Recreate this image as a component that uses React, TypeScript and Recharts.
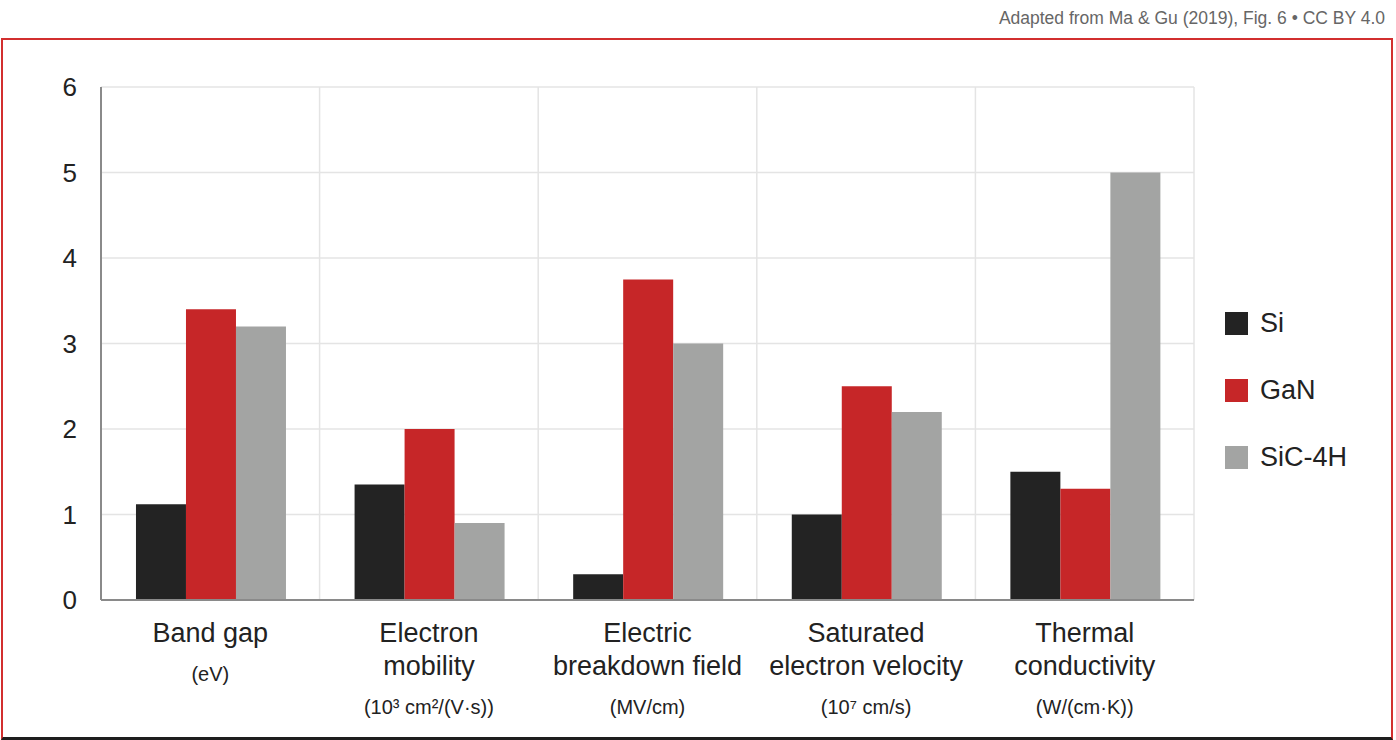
import { BarChart, Bar, XAxis, YAxis, CartesianGrid } from 'recharts'

// property groups along the x axis
const properties = ['Band gap', 'Electron mobility', 'Electric breakdown field', 'Saturated electron velocity', 'Thermal conductivity']
const titleLines = [['Band gap'], ['Electron', 'mobility'], ['Electric', 'breakdown field'], ['Saturated', 'electron velocity'], ['Thermal', 'conductivity']]
const units = ['(eV)', '(10³ cm²/(V·s))', '(MV/cm)', '(10⁷ cm/s)', '(W/(cm·K))']

// material values per property
const si = [1.12, 1.35, 0.3, 1.0, 1.5]
const gan = [3.4, 2.0, 3.75, 2.5, 1.3]
const sic = [3.2, 0.9, 3.0, 2.2, 5.0]

const yTicks = [0, 1, 2, 3, 4, 5, 6]

const series = [
  { key: 'si', name: 'Si', color: '#232323' },
  { key: 'gan', name: 'GaN', color: '#c62628' },
  { key: 'sic', name: 'SiC-4H', color: '#a3a4a3' },
]

const data = properties.map((p, i) => ({ property: p, si: si[i], gan: gan[i], sic: sic[i] }))

const FONT = '"Liberation Sans", Arial, Helvetica, sans-serif'

const CategoryTick = ({ x, y, payload }: any) => {
  const i = payload.index
  const lines = titleLines[i]
  return (
    <g transform={`translate(${x},${y})`}>
      {lines.map((t, k) => (
        <text key={k} x={0} y={34 + k * 33} textAnchor="middle" fontSize={27} fill="#222" fontFamily={FONT}>
          {t}
        </text>
      ))}
      <text x={0} y={34 + (lines.length - 1) * 33 + 39} textAnchor="middle" fontSize={20} fill="#222" fontFamily={FONT}>
        {units[i]}
      </text>
    </g>
  )
}

const SwatchLegend = () => (
  <div style={{ position: 'absolute', left: 1225, top: 311, fontFamily: FONT }}>
    {series.map((s) => (
      <div key={s.key} style={{ display: 'flex', alignItems: 'center', height: 24, marginBottom: 43 }}>
        <div style={{ width: 23, height: 23, background: s.color, marginRight: 12 }} />
        <span style={{ fontSize: 27, color: '#222' }}>{s.name}</span>
      </div>
    ))}
  </div>
)

export default function App() {
  return (
    <div style={{ position: 'absolute', left: 0, top: 0, width: 1396, height: 740, background: '#fff', overflow: 'hidden' }}>
      <div style={{ position: 'absolute', right: 11, top: 8, fontSize: 17.5, color: '#666', fontFamily: FONT }}>
        Adapted from Ma &amp; Gu (2019), Fig. 6 • CC BY 4.0
      </div>
      <div style={{ position: 'absolute', left: 1, top: 38, width: 1388, height: 697, borderLeft: '2px solid #d22f2f', borderRight: '2px solid #d22f2f', borderTop: '2px solid #d22f2f', borderBottom: '3px solid #1e1e1e' }} />
      <div style={{ position: 'absolute', left: 0, top: 0 }}>
        <BarChart width={1396} height={740} data={data} margin={{ top: 87, right: 202, bottom: 110, left: 41 }} barCategoryGap="16%" barGap={0}>
          <CartesianGrid
            stroke="#e4e4e4"
            strokeWidth={1.5}
            verticalCoordinatesGenerator={({ offset }: any) => [0, 1, 2, 3, 4, 5].map((k) => offset.left + (k * offset.width) / properties.length)}
          />
          <XAxis dataKey="property" height={30} tick={<CategoryTick />} tickLine={false} axisLine={{ stroke: '#8a8a8a', strokeWidth: 2 }} interval={0} />
          <YAxis
            width={60}
            domain={[0, 6]}
            ticks={yTicks}
            tickLine={false}
            axisLine={{ stroke: '#8a8a8a', strokeWidth: 2 }}
            tick={{ fontSize: 26, fill: '#222', fontFamily: FONT }}
            tickMargin={18}
          />
          {series.map((s) => (
            <Bar key={s.key} dataKey={s.key} name={s.name} fill={s.color} isAnimationActive={false} />
          ))}
        </BarChart>
      </div>
      <SwatchLegend />
    </div>
  )
}
